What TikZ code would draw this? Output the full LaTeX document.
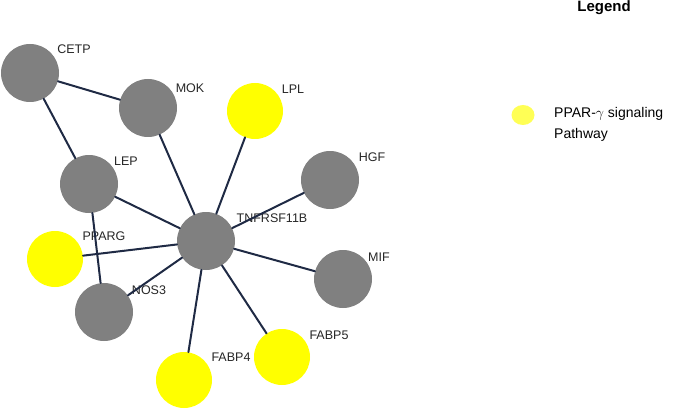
\documentclass[tikz,border=0pt]{standalone}
\usepackage{fontspec}
\setmainfont{Liberation Sans}
\usetikzlibrary{shapes.geometric}
\definecolor{gene}{HTML}{808080}
\definecolor{ppar}{HTML}{FFFF00}
\definecolor{legdot}{HTML}{FFFF55}
\definecolor{edge}{HTML}{1F2A44}
\tikzset{
  gnode/.style={circle,fill=gene,minimum size=58pt,inner sep=0pt},
  pnode/.style={circle,fill=ppar,minimum size=56pt,inner sep=0pt},
  glabel/.style={anchor=center,font=\fontsize{12.5}{14}\selectfont,inner sep=0pt,text=black!85},
  link/.style={draw=edge,line width=2pt}
}
\begin{document}
\begin{tikzpicture}[x=1pt,y=-1pt,line cap=round,line join=round]
  \useasboundingbox (0,0) rectangle (685,409);
  % genes
  \node[gnode] (cetp) at (30,73) {};
  \node[gnode] (mok) at (148,108) {};
  \node[pnode] (lpl) at (255,111) {};
  \node[gnode] (lep) at (89,184) {};
  \node[gnode] (hgf) at (330,180) {};
  \node[gnode] (tnf) at (206,241) {};
  \node[pnode] (pparg) at (55,259) {};
  \node[gnode] (mif) at (343,279) {};
  \node[gnode] (nos3) at (104,312) {};
  \node[pnode] (fabp5) at (282,357) {};
  \node[pnode] (fabp4) at (184,380) {};
  % labels
  \node[glabel] (cetp-l) at (74,49) {CETP};
  \node[glabel] (mok-l) at (190,88) {MOK};
  \node[glabel] (lpl-l) at (293,89) {LPL};
  \node[glabel] (lep-l) at (126,161) {LEP};
  \node[glabel] (hgf-l) at (372,157) {HGF};
  \node[glabel] (tnf-l) at (272,218) {TNFRSF11B};
  \node[glabel] (pparg-l) at (104,236) {PPARG};
  \node[glabel] (mif-l) at (379,257) {MIF};
  \node[glabel] (nos3-l) at (149,290) {NOS3};
  \node[glabel] (fabp5-l) at (329,335) {FABP5};
  \node[glabel] (fabp4-l) at (231,357) {FABP4};
  % interactions
  \draw[link] (cetp) -- (mok);
  \draw[link] (cetp) -- (lep);
  \draw[link] (lep) -- (nos3);
  \foreach \g in {mok,lpl,lep,hgf,pparg,mif,nos3,fabp5,fabp4}
    \draw[link] (tnf) -- (\g);
  % legend
  \node[font=\bfseries\fontsize{15}{17}\selectfont] (leg-t) at (604,8) {Legend};
  \node[ellipse,fill=legdot,minimum width=23pt,minimum height=20pt,inner sep=0pt] (leg-dot) at (523,115) {};
  \node[anchor=north west,align=left,inner sep=0pt,font=\fontsize{14}{21}\selectfont] (leg-txt) at (554,107) {PPAR-$\gamma$ signaling\\Pathway};
\end{tikzpicture}
\end{document}
